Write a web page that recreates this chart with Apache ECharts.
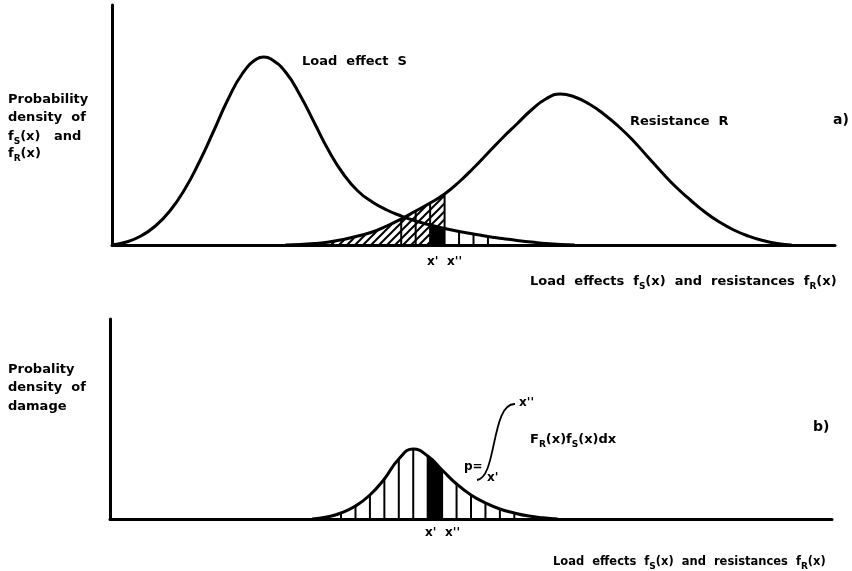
<!DOCTYPE html>
<html>
<head>
<meta charset="utf-8">
<script src="https://cdn.jsdelivr.net/npm/echarts@6/dist/echarts.min.js"></script>
<style>
  html, body { margin: 0; padding: 0; background: #fff; }
  #chart { width: 852px; height: 571px; }
</style>
</head>
<body>
<div id="chart"></div>
<script>
// Load effect S: density f_S(x), arbitrary units
const loadX = [0, 2, 4, 6, 8, 10, 12, 14, 16, 18, 20, 21, 22, 24, 26, 28, 30, 32, 34, 36, 38, 40, 42, 44, 46, 48, 50, 52, 54, 56, 58, 60, 62, 64];
const loadY = [0, 3, 9, 19, 34, 55, 82, 113, 145, 171, 186, 188, 186, 173, 150, 122, 94, 71, 54, 43, 35, 29, 24, 20, 16.5, 13.5, 11, 8.5, 6.5, 4.5, 3, 1.5, 0.5, 0];

// Resistance R: density f_R(x)
const resX = [24, 26, 28, 30, 32, 34, 36, 38, 40, 42, 44, 46, 48, 50, 52, 54, 56, 58, 60, 62, 64, 66, 68, 70, 72, 74, 76, 78, 80, 82, 84, 86, 88, 90, 92, 94];
const resY = [0, 0.5, 1.5, 3, 5.5, 9, 13, 19, 26, 34, 42, 51, 63, 77, 92, 107, 121, 135, 146, 151, 148, 141, 131, 119, 105, 89, 73, 58, 45, 33, 23, 15, 9, 4.5, 1.5, 0];

// Density of damage F_R(x) f_S(x)
const dmgX = [28, 30, 32, 34, 36, 38, 40, 42, 44, 46, 48, 50, 52, 54, 56, 58, 60, 62];
const dmgY = [0, 2, 6, 13, 24, 40, 60, 70, 63, 49, 35, 24, 16, 10, 6, 3, 1.2, 0];

// Integration limits x' and x''
const xPrime = 44;
const xDoublePrime = 46;

// Stations where vertical hatch strokes are drawn
const resStrokes = [40, 42, 44, 46];
const loadTailStrokes = [48, 50, 52];
const dmgStrokes = [32, 34, 36, 38, 40, 42, 44, 46, 48, 50, 52, 54, 56];

const pairs = (xs, ys) => xs.map((x, i) => [x, ys[i]]);
const valueAt = (xs, ys, x) => ys[xs.indexOf(x)];

const loadPts = pairs(loadX, loadY);
const resPts = pairs(resX, resY);
const dmgPts = pairs(dmgX, dmgY);

// Diagonal "////" hatch tile
function hatchPattern() {
  const s = 8;
  const c = document.createElement('canvas');
  c.width = s; c.height = s;
  const g = c.getContext('2d');
  g.strokeStyle = '#000';
  g.lineWidth = 2;
  g.lineCap = 'square';
  g.beginPath();
  g.moveTo(0, s); g.lineTo(s, 0);
  g.moveTo(-2, 2); g.lineTo(2, -2);
  g.moveTo(s - 2, s + 2); g.lineTo(s + 2, s - 2);
  g.stroke();
  return c;
}

const SMOOTH = 0.5;
const FONT = '"DejaVu Sans", sans-serif';
const txt = (size) => ({ fontFamily: FONT, fontWeight: 'bold', fontSize: size, fill: '#000' });
const subStyle = { fontFamily: FONT, fontWeight: 'bold', fontSize: 9, padding: [9, 0, 0, 0] };
const mainStyle = (size) => ({ fontFamily: FONT, fontWeight: 'bold', fontSize: size });

function label(x, y, text, size) {
  return {
    type: 'text', x: x, y: y, silent: true,
    style: Object.assign(txt(size), { text: text, verticalAlign: 'middle', align: 'left' })
  };
}
function richLabel(x, y, text, size) {
  return {
    type: 'text', x: x, y: y, silent: true,
    style: {
      text: text, verticalAlign: 'middle', align: 'left', fill: '#000',
      fontFamily: FONT, fontWeight: 'bold', fontSize: size,
      rich: { m: mainStyle(size), s: subStyle }
    }
  };
}

const axisLine = { show: true, onZero: false, lineStyle: { color: '#000', width: 3 } };
const bareAxis = (grid, max) => ({
  gridIndex: grid, type: 'value', min: 0, max: max,
  axisLine: axisLine, axisTick: { show: false }, axisLabel: { show: false }, splitLine: { show: false }
});

const curve = (xi, yi, data, z) => ({
  type: 'line', xAxisIndex: xi, yAxisIndex: yi, smooth: SMOOTH,
  showSymbol: false, silent: true, z: z, data: data
});

const chart = echarts.init(document.getElementById('chart'), null, { renderer: 'canvas' });
chart.setOption({
  backgroundColor: '#fff',
  animation: false,
  grid: [
    { left: 112, top: 5, width: 723, height: 240 },
    { left: 110, top: 319, width: 722, height: 200 }
  ],
  xAxis: [bareAxis(0, 100), bareAxis(1, 100)],
  yAxis: [bareAxis(0, 240), bareAxis(1, 200)],
  series: [
    // a) hatched area under f_R up to x''
    Object.assign(curve(0, 0, resPts.filter(p => p[0] <= xDoublePrime), 1), {
      lineStyle: { width: 0 },
      areaStyle: { color: { image: hatchPattern(), repeat: 'repeat' }, opacity: 1 }
    }),
    // a) solid area under f_S between x' and x''
    {
      type: 'line', xAxisIndex: 0, yAxisIndex: 0, smooth: false, showSymbol: false, silent: true, z: 2,
      data: loadPts.filter(p => p[0] >= xPrime && p[0] <= xDoublePrime),
      lineStyle: { width: 0 },
      areaStyle: { color: '#000', opacity: 1 }
    },
    // a) vertical strokes
    {
      type: 'bar', xAxisIndex: 0, yAxisIndex: 0, barWidth: 2, silent: true, z: 3,
      itemStyle: { color: '#000' },
      data: resStrokes.map(x => [x, valueAt(resX, resY, x)])
        .concat(loadTailStrokes.map(x => [x, valueAt(loadX, loadY, x)]))
    },
    // a) load effect S
    Object.assign(curve(0, 0, loadPts, 5), { lineStyle: { color: '#000', width: 3 } }),
    // a) resistance R
    Object.assign(curve(0, 0, resPts, 5), { lineStyle: { color: '#000', width: 3 } }),
    // b) solid slice between x' and x''
    {
      type: 'line', xAxisIndex: 1, yAxisIndex: 1, smooth: false, showSymbol: false, silent: true, z: 2,
      data: dmgPts.filter(p => p[0] >= xPrime && p[0] <= xDoublePrime),
      lineStyle: { width: 0 },
      areaStyle: { color: '#000', opacity: 1 }
    },
    // b) vertical strokes
    {
      type: 'bar', xAxisIndex: 1, yAxisIndex: 1, barWidth: 2, silent: true, z: 3,
      itemStyle: { color: '#000' },
      data: dmgStrokes.map(x => [x, valueAt(dmgX, dmgY, x)])
    },
    // b) density of damage
    Object.assign(curve(1, 1, dmgPts, 5), { lineStyle: { color: '#000', width: 3 } })
  ],
  graphic: [
    label(8, 100, 'Probability', 13),
    label(8, 118, 'density  of', 13),
    richLabel(8, 137, '{m|f}{s|S}{m|(x)   and}', 13),
    richLabel(8, 154, '{m|f}{s|R}{m|(x)}', 13),
    label(302, 62, 'Load  effect  S', 13),
    label(630, 122, 'Resistance  R', 13),
    label(833, 120, 'a)', 14),
    label(427, 262, "x'", 12),
    label(447, 262, "x''", 12),
    richLabel(530, 282, '{m|Load  effects  f}{s|S}{m|(x)  and  resistances  f}{s|R}{m|(x)}', 13),

    label(8, 370, 'Probality', 13),
    label(8, 388, 'density  of', 13),
    label(8, 407, 'damage', 13),
    label(425, 533, "x'", 12),
    label(445, 533, "x''", 12),
    label(464, 467, 'p=', 12),
    {
      type: 'bezierCurve', silent: true,
      shape: { x1: 477, y1: 480, cpx1: 497, cpy1: 478, cpx2: 491, cpy2: 403, x2: 515, y2: 404 },
      style: { stroke: '#000', lineWidth: 1.8, fill: null }
    },
    label(519, 403, "x''", 12),
    label(487, 478, "x'", 12),
    richLabel(530, 440, '{m|F}{s|R}{m|(x)f}{s|S}{m|(x)dx}', 13),
    label(813, 427, 'b)', 14),
    richLabel(553, 562, '{m|Load  effects  f}{s|S}{m|(x)  and  resistances  f}{s|R}{m|(x)}', 11.5)
  ]
});
</script>
</body>
</html>
